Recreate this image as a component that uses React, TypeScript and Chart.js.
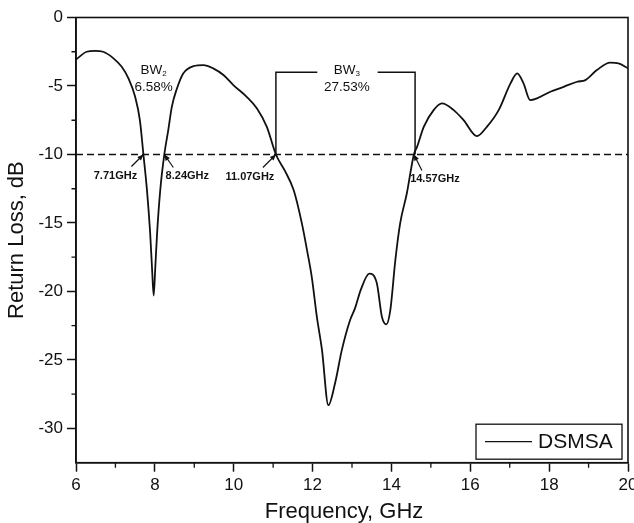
import React, { useEffect, useRef } from "react";
import { Chart, registerables } from "chart.js";

Chart.register(...registerables);

// ---- data ----
const freq = [
  6.0, 6.27, 6.48, 6.69, 6.95, 7.16, 7.33, 7.5, 7.62, 7.71, 7.8, 7.88, 7.93, 7.97,
  8.01, 8.06, 8.14, 8.24, 8.34, 8.43, 8.56, 8.72, 8.98, 9.23, 9.48, 9.74, 9.99,
  10.33, 10.59, 10.84, 11.07, 11.3, 11.52, 11.73, 11.86, 11.98, 12.11, 12.24, 12.4,
  12.57, 12.74, 12.95, 13.08, 13.22, 13.44, 13.63, 13.76, 13.87, 13.97, 14.1, 14.22,
  14.39, 14.57, 14.65, 14.82, 15.07, 15.28, 15.58, 15.83, 16.17, 16.42, 16.72, 17.02,
  17.19, 17.35, 17.52, 17.69, 18.03, 18.37, 18.71, 18.92, 19.21, 19.55, 19.76, 20.0,
];
const returnLoss = [
  -3.06, -2.5, -2.43, -2.5, -2.98, -3.6, -4.45, -5.79, -7.49, -10.0, -12.6, -15.7, -18.4, -20.3,
  -18.3, -15.6, -12.5, -10.0, -8.22, -6.52, -5.18, -4.08, -3.55, -3.47, -3.71, -4.2, -4.93,
  -5.79, -6.64, -7.98, -10.0, -11.2, -12.6, -15.05, -17.0, -18.95, -21.87, -24.3, -28.3,
  -26.7, -24.3, -22.1, -21.2, -19.9, -18.7, -19.4, -21.87, -22.4, -21.4, -17.7, -15.05,
  -12.85, -10.0, -9.44, -7.98, -6.76, -6.27, -6.76, -7.49, -8.66, -7.98, -6.76, -4.81,
  -4.08, -4.81, -6.03, -5.9, -5.42, -5.06, -4.69, -4.57, -3.84, -3.3, -3.35, -3.71,
];
const seriesName = "DSMSA";
const xTitle = "Frequency, GHz";
const yTitle = "Return Loss, dB";
const thresholdDb = -10;
const crossFreqs = [7.71, 8.24, 11.07, 14.57];
const bracketTopDb = -4;
const bw2Text = ["BW", "2", "6.58%"];
const bw3Text = ["BW", "3", "27.53%"];
const xTicks = [6, 8, 10, 12, 14, 16, 18, 20];
const xMinorTicks = [7, 9, 11, 13, 15, 17, 19];
const yTicks = [0, -5, -10, -15, -20, -25, -30];
const yMinorTicks = [-2.5, -7.5, -12.5, -17.5, -22.5, -27.5];

const FONT = "'Liberation Sans', Arial, sans-serif";
const INK = "#111";

const decorPlugin = {
  id: "decor",
  afterDatasetsDraw(chart: any) {
    const { ctx, chartArea: a, scales } = chart;
    const xs = scales.x;
    const ys = scales.y;
    ctx.save();
    // frame
    ctx.strokeStyle = INK;
    ctx.lineWidth = 1.6;
    ctx.strokeRect(a.left, a.top, a.right - a.left, a.bottom - a.top);
    // minor ticks
    ctx.lineWidth = 1.3;
    ctx.beginPath();
    xMinorTicks.forEach((v) => {
      const px = xs.getPixelForValue(v);
      ctx.moveTo(px, a.bottom);
      ctx.lineTo(px, a.bottom + 5);
    });
    yMinorTicks.forEach((v) => {
      const py = ys.getPixelForValue(v);
      ctx.moveTo(a.left, py);
      ctx.lineTo(a.left - 4.5, py);
    });
    ctx.stroke();

    // x axis title
    ctx.fillStyle = INK;
    ctx.font = `22px ${FONT}`;
    ctx.textAlign = "center";
    ctx.textBaseline = "middle";
    ctx.fillText(xTitle, (a.left + a.right) / 2 - 8, xs.bottom - 11);

    // arrows + frequency labels
    const offsets = [
      { lx: -28, ly: 21, tx: -12, ty: 12 },
      { lx: 23, ly: 21, tx: 9, ty: 13 },
      { lx: -26, ly: 22, tx: -13, ty: 13 },
      { lx: 21, ly: 24, tx: 8, ty: 16 },
    ];
    const yc = ys.getPixelForValue(thresholdDb);
    ctx.font = `bold 11px ${FONT}`;
    crossFreqs.forEach((f, i) => {
      const o = offsets[i];
      const hx = xs.getPixelForValue(f);
      const hy = yc;
      const tx = hx + o.tx;
      const ty = hy + o.ty;
      ctx.lineWidth = 1.2;
      ctx.beginPath();
      ctx.moveTo(tx, ty);
      ctx.lineTo(hx, hy);
      ctx.stroke();
      const ang = Math.atan2(hy - ty, hx - tx);
      const L = 6, W = 2.6;
      ctx.beginPath();
      ctx.moveTo(hx, hy);
      ctx.lineTo(hx - L * Math.cos(ang) + W * Math.sin(ang), hy - L * Math.sin(ang) - W * Math.cos(ang));
      ctx.lineTo(hx - L * Math.cos(ang) - W * Math.sin(ang), hy - L * Math.sin(ang) + W * Math.cos(ang));
      ctx.closePath();
      ctx.fill();
      ctx.fillText(`${f}GHz`, hx + o.lx, hy + o.ly);
    });

    // BW labels
    const drawBw = (t: string[], fx: number) => {
      const cx = xs.getPixelForValue(fx);
      const y1 = ys.getPixelForValue(-3.85);
      const y2 = ys.getPixelForValue(-5.1);
      ctx.font = `13.5px ${FONT}`;
      const w1 = ctx.measureText(t[0]).width;
      ctx.font = `8px ${FONT}`;
      const w2 = ctx.measureText(t[1]).width;
      const start = cx - (w1 + w2) / 2;
      ctx.textAlign = "left";
      ctx.font = `13.5px ${FONT}`;
      ctx.fillText(t[0], start, y1);
      ctx.font = `8px ${FONT}`;
      ctx.fillText(t[1], start + w1, y1 + 4);
      ctx.textAlign = "center";
      ctx.font = `13.5px ${FONT}`;
      ctx.fillText(t[2], cx, y2);
    };
    drawBw(bw2Text, 7.97);
    drawBw(bw3Text, 12.87);

    // legend
    const ds = chart.data.datasets[0];
    const lw = 146, lh = 35;
    const lx = a.right - 152;
    const ly = a.bottom - 38.5;
    ctx.lineWidth = 1.3;
    ctx.strokeStyle = INK;
    ctx.strokeRect(lx, ly, lw, lh);
    ctx.beginPath();
    ctx.moveTo(lx + 9, ly + lh / 2);
    ctx.lineTo(lx + 56, ly + lh / 2);
    ctx.stroke();
    ctx.font = `21px ${FONT}`;
    ctx.textAlign = "left";
    ctx.textBaseline = "middle";
    ctx.fillText(ds.label, lx + 62, ly + lh / 2 + 1);
    ctx.restore();
  },
};

export default function App() {
  const ref = useRef<HTMLCanvasElement | null>(null);
  useEffect(() => {
    if (!ref.current) return;
    const curve = freq.map((f, i) => ({ x: f, y: returnLoss[i] }));
    const chart = new Chart(ref.current, {
      type: "line",
      data: {
        datasets: [
          {
            label: seriesName,
            data: curve,
            borderColor: INK,
            borderWidth: 1.8,
            pointRadius: 0,
            cubicInterpolationMode: "monotone",
          },
          {
            label: "threshold",
            data: [
              { x: xTicks[0], y: thresholdDb },
              { x: xTicks[xTicks.length - 1], y: thresholdDb },
            ],
            borderColor: INK,
            borderWidth: 1.5,
            borderDash: [7, 4],
            pointRadius: 0,
          },
          {
            label: "bracket",
            data: [
              { x: crossFreqs[2], y: thresholdDb },
              { x: crossFreqs[2], y: bracketTopDb },
              { x: 12.12, y: bracketTopDb },
              { x: 12.9, y: null },
              { x: 13.65, y: bracketTopDb },
              { x: crossFreqs[3] + 0.03, y: bracketTopDb },
              { x: crossFreqs[3] + 0.03, y: thresholdDb },
            ],
            borderColor: INK,
            borderWidth: 1.5,
            pointRadius: 0,
            spanGaps: false,
          },
        ],
      },
      options: {
        animation: false,
        responsive: true,
        maintainAspectRatio: false,
        layout: { padding: { top: 17.5, right: 6, left: 0, bottom: 0 } },
        plugins: { legend: { display: false }, tooltip: { enabled: false } },
        scales: {
          x: {
            type: "linear",
            min: 6,
            max: 20,
            afterBuildTicks: (s: any) => {
              s.ticks = xTicks.map((v) => ({ value: v }));
            },
            afterFit: (s: any) => {
              s.height = 60.3;
              s.paddingLeft = 0;
              s.paddingRight = 0;
            },
            grid: {
              drawOnChartArea: false,
              drawTicks: true,
              tickLength: 9,
              tickColor: INK,
              tickWidth: 1.5,
            },
            border: { display: true, color: INK, width: 1.6 },
            ticks: {
              color: INK,
              padding: 3,
              maxRotation: 0,
              autoSkip: false,
              font: { family: FONT, size: 17 },
            },
            title: { display: false },
          },
          y: {
            type: "linear",
            min: -32.5,
            max: 0,
            afterBuildTicks: (s: any) => {
              s.ticks = yTicks.map((v) => ({ value: v }));
            },
            afterFit: (s: any) => {
              s.width = 76;
              s.paddingTop = 0;
              s.paddingBottom = 0;
            },
            grid: {
              drawOnChartArea: false,
              drawTicks: true,
              tickLength: 9,
              tickColor: INK,
              tickWidth: 1.5,
            },
            border: { display: true, color: INK, width: 1.6 },
            ticks: {
              color: INK,
              padding: 4,
              autoSkip: false,
              font: { family: FONT, size: 17 },
            },
            title: {
              display: true,
              text: yTitle,
              color: INK,
              font: { family: FONT, size: 22 },
              padding: { top: 4, bottom: 0 },
            },
          },
        },
      },
      plugins: [decorPlugin],
    });
    return () => chart.destroy();
  }, []);

  return (
    <div style={{ position: "fixed", left: 0, top: 0, width: 634, height: 523, background: "#fff" }}>
      <canvas ref={ref} />
    </div>
  );
}
